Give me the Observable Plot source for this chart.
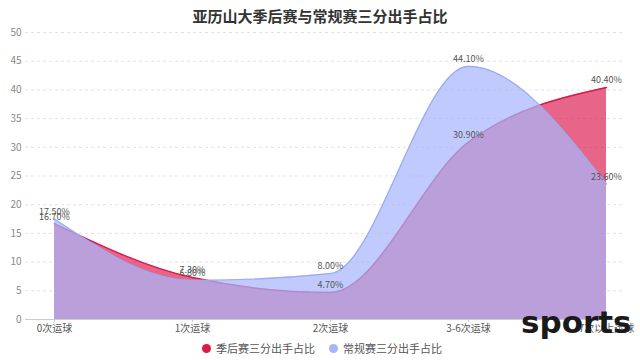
<!DOCTYPE html>
<html>
<head>
<meta charset="utf-8">
<script src="https://cdn.jsdelivr.net/npm/d3@7"></script>
<script src="https://cdn.jsdelivr.net/npm/@observablehq/plot@0.6"></script>
<style>
  html, body { margin: 0; padding: 0; background: #fff; width: 640px; height: 360px; overflow: hidden; }
  body { font-family: "Noto Sans CJK SC", "Noto Sans", sans-serif; position: relative; }
  #title { height: 22px; line-height: 32px; text-align: center; font-size: 15px; font-weight: bold; color: #333; }
  #chart { height: 314px; }
  #legend { height: 24px; display: flex; justify-content: center; align-items: center; gap: 14px; font-size: 11px; color: #555; margin-left: 4px; }
  .item { display: flex; align-items: center; gap: 5px; }
  .dot { width: 9px; height: 9px; border-radius: 50%; display: inline-block; }
  #wm { position: absolute; left: 521px; top: 304px; font-family: "DejaVu Sans", sans-serif; font-weight: bold; font-size: 31px; color: #1a1a1a; }
</style>
</head>
<body>
<div id="title"></div>
<div id="chart"></div>
<div id="legend"></div>
<div id="wm">sports</div>
<script>
const titleText = "亚历山大季后赛与常规赛三分出手占比";
const categories = ["0次运球", "1次运球", "2次运球", "3-6次运球", "7次以上运球"];
const playoffValues = [16.7, 7.3, 4.7, 30.9, 40.4];
const regularValues = [17.5, 6.8, 8.0, 44.1, 23.6];
const seriesNames = ["季后赛三分出手占比", "常规赛三分出手占比"];
const yTicks = [0, 5, 10, 15, 20, 25, 30, 35, 40, 45, 50];
const watermark = "sports";

const fills = ["#de2358", "#a7b5fb"];
const strokes = ["#d81b4d", "#9aabf6"];

document.getElementById("title").textContent = titleText;
document.getElementById("wm").textContent = watermark;

const rows = [];
[playoffValues, regularValues].forEach((vals, si) => {
  vals.forEach((v, i) => rows.push({series: seriesNames[si], cat: categories[i], v}));
});
const s0 = rows.filter(d => d.series === seriesNames[0]);
const s1 = rows.filter(d => d.series === seriesNames[1]);

const chart = Plot.plot({
  width: 640,
  height: 314,
  marginTop: 10,
  marginBottom: 17,
  marginLeft: 25,
  marginRight: 15,
  style: {fontFamily: "'Noto Sans CJK SC', 'Noto Sans', sans-serif", background: "transparent"},
  x: {type: "point", domain: categories, range: [54, 606], padding: 0},
  y: {domain: [0, 50]},
  marks: [
    Plot.gridY(yTicks, {stroke: "#e3e3e3", strokeOpacity: 1, strokeDasharray: "3,3"}),
    Plot.axisY(yTicks, {tickSize: 0, tickPadding: 4, fontSize: 10, fill: "#888", label: null}),
    Plot.areaY(s0, {x: "cat", y: "v", curve: "monotone-x", fill: fills[0], fillOpacity: 0.7}),
    Plot.lineY(s0, {x: "cat", y: "v", curve: "monotone-x", stroke: strokes[0], strokeWidth: 1.5}),
    Plot.areaY(s1, {x: "cat", y: "v", curve: "monotone-x", fill: fills[1], fillOpacity: 0.72}),
    Plot.lineY(s1, {x: "cat", y: "v", curve: "monotone-x", stroke: strokes[1], strokeWidth: 1.2}),
    Plot.ruleY([0], {stroke: "#ccc"}),
    Plot.axisX({tickSize: 3, tickPadding: 2, fontSize: 10, fill: "#555", stroke: "#ccc", label: null}),
    Plot.text(s0, {x: "cat", y: "v", text: d => d.v.toFixed(2) + "%", dy: -7, fontSize: 9, fill: "#555"}),
    Plot.text(s1, {x: "cat", y: "v", text: d => d.v.toFixed(2) + "%", dy: -7, fontSize: 9, fill: "#555"})
  ]
});
document.getElementById("chart").appendChild(chart);

const legend = document.getElementById("legend");
seriesNames.forEach((name, i) => {
  const item = document.createElement("span");
  item.className = "item";
  const dot = document.createElement("span");
  dot.className = "dot";
  dot.style.background = i === 0 ? "#d81b4d" : "#a7b5fb";
  const t = document.createElement("span");
  t.textContent = name;
  item.appendChild(dot);
  item.appendChild(t);
  legend.appendChild(item);
});
</script>
</body>
</html>
